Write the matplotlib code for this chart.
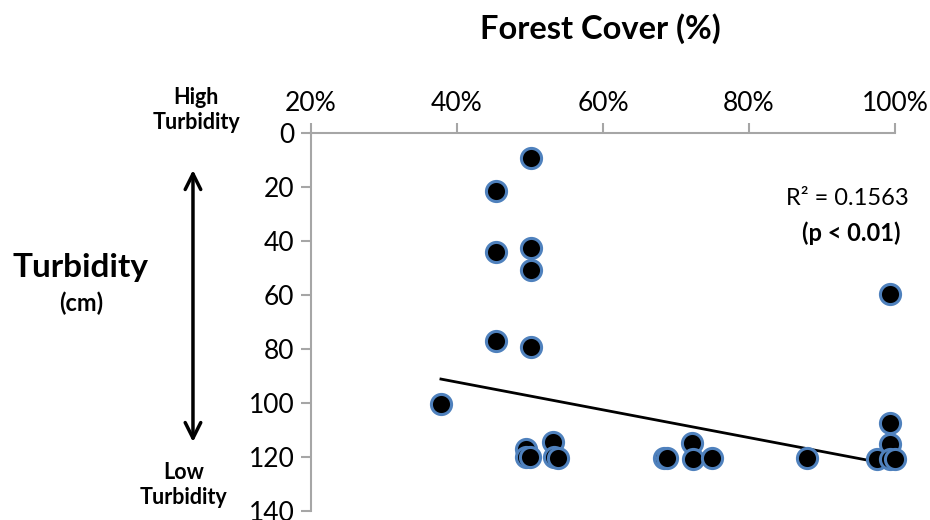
# forest cover vs turbidity scatter, with linear trend line
import numpy as np
import matplotlib.pyplot as plt

plt.rcParams['font.family'] = ['Lato', 'DejaVu Sans']

# data (forest cover in %, turbidity in cm)
forest_cover = [50.2, 45.4, 45.4, 50.2, 50.2, 45.4, 50.2, 37.8,
                53.2, 49.4, 49.4, 50.0, 53.3, 53.9,
                68.3, 68.8, 72.2, 72.3, 74.9, 87.9,
                99.3, 99.3, 99.3, 97.5, 99.3, 100.0]
turbidity = [9.4, 21.5, 44.0, 42.6, 50.6, 77.2, 79.3, 100.3,
             114.3, 117.0, 120.1, 120.0, 120.0, 120.5,
             120.5, 120.5, 114.9, 120.7, 120.5, 120.5,
             59.5, 107.5, 115.0, 120.7, 120.7, 120.7]

# trend line (many points overlap, so a refit drifts)
trend_slope = 0.514
trend_intercept = 71.7
r_squared = "0.1563"

x_ticks = [20, 40, 60, 80, 100]
y_ticks = [0, 20, 40, 60, 80, 100, 120, 140]

fig = plt.figure(figsize=(9.3, 5.2), dpi=100)
ax = fig.add_axes([0.3344, 0.0173, 0.628, 0.7269])

x = np.array(forest_cover)
y = np.array(turbidity)

xfit = np.array([x.min(), x.max()])
ax.plot(xfit, trend_slope * xfit + trend_intercept, color='black', lw=2, zorder=2)

ax.plot(x, y, 'o', markersize=14.5, markerfacecolor='black',
        markeredgecolor='#4f81bd', markeredgewidth=2.2, zorder=3, clip_on=False)

ax.set_xlim(20, 100)
ax.set_ylim(140, 0)
ax.xaxis.tick_top()
ax.set_xticks(x_ticks)
ax.set_xticklabels([f"{t}%" for t in x_ticks])
ax.set_yticks(y_ticks)

for s in ['right', 'bottom']:
    ax.spines[s].set_visible(False)
for s in ['left', 'top']:
    ax.spines[s].set_color('#a6a6a6')
    ax.spines[s].set_linewidth(1.5)
ax.tick_params(axis='both', colors='#a6a6a6', length=7, width=1.5,
               labelsize=19, labelcolor='black', pad=5)

fig.text(0.646, 0.945, "Forest Cover (%)", fontsize=23.5, fontweight='bold',
         ha='center', va='center')

fig.text(0.087, 0.486, "Turbidity", fontsize=24, fontweight='bold',
         ha='center', va='center')
fig.text(0.087, 0.417, "(cm)", fontsize=17, fontweight='bold',
         ha='center', va='center')
fig.text(0.211, 0.788, "High\nTurbidity", fontsize=15.5, fontweight='bold',
         ha='center', va='center', linespacing=1.25)
fig.text(0.197, 0.067, "Low\nTurbidity", fontsize=15.5, fontweight='bold',
         ha='center', va='center', linespacing=1.25)

# double arrow beside the y axis
fig.add_artist(plt.Annotation("", xy=(0.2075, 0.673), xytext=(0.2075, 0.15),
                              xycoords='figure fraction',
                              arrowprops=dict(arrowstyle='<->', lw=2.5,
                                              color='black', mutation_scale=28,
                                              shrinkA=0, shrinkB=0)))

ax.text(1.024, 0.828, "R² = " + r_squared, transform=ax.transAxes,
        fontsize=17, ha='right', va='center')
ax.text(1.009, 0.735, "(p < 0.01)", transform=ax.transAxes,
        fontsize=17, fontweight='bold', ha='right', va='center')

plt.savefig("out.png", dpi=100)
